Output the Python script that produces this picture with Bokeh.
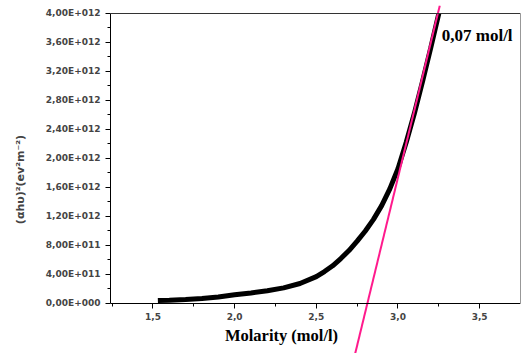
from bokeh.plotting import figure
from bokeh.models import FixedTicker, Label, Range1d, LinearAxis
from bokeh.embed import file_html
from bokeh.resources import INLINE

# --- data ---
molarity = [1.53, 1.6, 1.7, 1.8, 1.9, 2.0, 2.1, 2.2, 2.3, 2.4, 2.5, 2.55, 2.6, 2.65,
            2.7, 2.75, 2.8, 2.85, 2.9, 2.95, 3.0, 3.05, 3.1, 3.15, 3.2, 3.25]
absorb = [0.04e12, 0.045e12, 0.055e12, 0.07e12, 0.09e12, 0.12e12, 0.145e12, 0.175e12,
          0.215e12, 0.275e12, 0.37e12, 0.44e12, 0.52e12, 0.62e12, 0.73e12, 0.86e12,
          1.0e12, 1.16e12, 1.35e12, 1.58e12, 1.86e12, 2.22e12, 2.62e12, 3.06e12,
          3.52e12, 4.0e12]
fit_x = [2.738, 3.256]
fit_y = [-0.69e12, 4.11e12]

x_ticks = [1.5, 2.0, 2.5, 3.0, 3.5]
x_tick_labels = ["1,5", "2,0", "2,5", "3,0", "3,5"]
x_minor = [1.25, 1.75, 2.25, 2.75, 3.25]
y_ticks = [0.0, 0.4e12, 0.8e12, 1.2e12, 1.6e12, 2.0e12, 2.4e12, 2.8e12, 3.2e12, 3.6e12, 4.0e12]
y_tick_labels = ["0,00E+000", "4,00E+011", "8,00E+011", "1,20E+012", "1,60E+012",
                 "2,00E+012", "2,40E+012", "2,80E+012", "3,20E+012", "3,60E+012", "4,00E+012"]
y_minor = [0.2e12, 0.6e12, 1.0e12, 1.4e12, 1.8e12, 2.2e12, 2.6e12, 3.0e12, 3.4e12, 3.8e12]
annotation_text = "0,07 mol/l"
x_title = "Molarity (mol/l)"
y_title = "(αhυ)²(ev²m⁻²)"

X0, X1 = 1.24, 3.75
Y0, Y1 = 0.0, 4.0e12

p = figure(width=522, height=353, output_backend="svg", toolbar_location=None,
           x_range=Range1d(X0, X1), y_range=Range1d(-0.69e12, 4.11e12),
           min_border_left=110, min_border_right=2, min_border_top=5, min_border_bottom=0,
           x_axis_location=None, y_axis_location=None)
p.grid.visible = False
p.outline_line_color = None
p.background_fill_color = "white"
p.border_fill_color = "white"

p.line(molarity, absorb, line_color="black", line_width=5)
p.line(fit_x, fit_y, line_color="#ff1a8c", line_width=2)

p.add_layout(Label(x=3.268, y=3.56e12, text=annotation_text, text_font="Liberation Serif",
                   text_font_style="bold", text_font_size="17px", text_color="black"))
p.add_layout(Label(x=2.287, y=-0.44e12, text=x_title, text_font="Liberation Serif",
                   text_font_style="bold", text_font_size="16.5px", text_color="black",
                   text_align="center", text_baseline="middle"))

# bottom axis at y = 0
xa = LinearAxis(fixed_location=Y0)
xa.ticker = FixedTicker(ticks=x_ticks, minor_ticks=x_minor)
xa.major_label_overrides = {t: l for t, l in zip(x_ticks, x_tick_labels)}
xa.major_label_text_font = "DejaVu Sans"
xa.major_label_text_font_style = "bold"
xa.major_label_text_font_size = "9px"
xa.major_label_standoff = 5
xa.major_tick_out = 5
xa.major_tick_in = 0
xa.minor_tick_out = 3
xa.minor_tick_in = 0
xa.axis_line_color = "black"
p.add_layout(xa, "below")

# left axis
ya = LinearAxis(bounds=(Y0, Y1))
ya.ticker = FixedTicker(ticks=y_ticks, minor_ticks=y_minor)
ya.major_label_overrides = {t: l for t, l in zip(y_ticks, y_tick_labels)}
ya.axis_label = y_title
ya.axis_label_text_font = "DejaVu Sans"
ya.axis_label_text_font_style = "bold"
ya.axis_label_text_font_size = "11px"
ya.axis_label_standoff = 16
ya.major_label_text_font = "DejaVu Sans"
ya.major_label_text_font_style = "bold"
ya.major_label_text_font_size = "9px"
ya.major_label_standoff = 5
ya.major_tick_out = 5
ya.major_tick_in = 0
ya.minor_tick_out = 3
ya.minor_tick_in = 0
ya.axis_line_color = "black"
p.add_layout(ya, "left")

# frame border: top and right
top = LinearAxis(fixed_location=Y1, ticker=FixedTicker(ticks=[]), major_label_text_font_size="0px",
                 axis_line_color="#333333", major_tick_out=0, minor_tick_out=0)
p.add_layout(top, "above")
right = LinearAxis(fixed_location=X1, bounds=(Y0, Y1), ticker=FixedTicker(ticks=[]),
                   major_label_text_font_size="0px", axis_line_color="#333333",
                   major_tick_out=0, minor_tick_out=0)
p.add_layout(right, "right")

open("out.html", "w").write(file_html(p, INLINE))
